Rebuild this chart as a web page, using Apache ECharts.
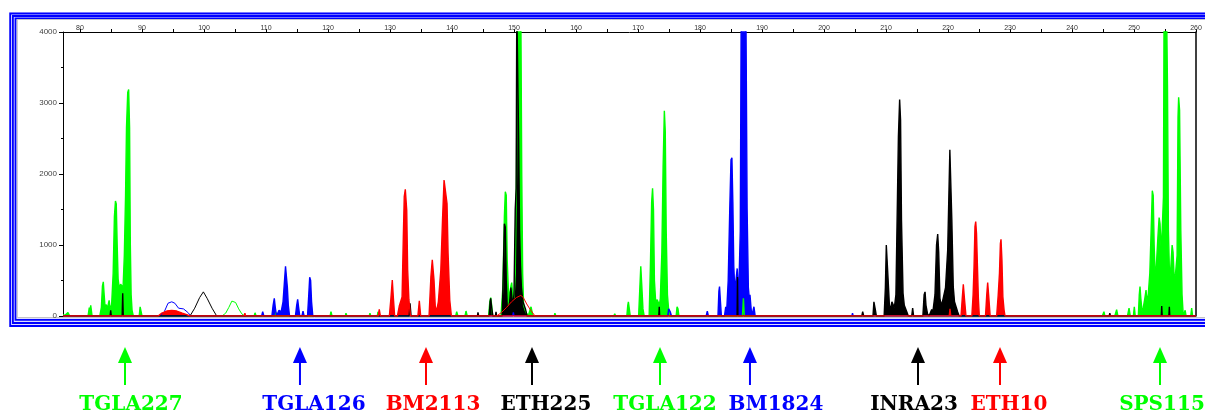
<!DOCTYPE html>
<html>
<head>
<meta charset="utf-8">
<script src="https://cdn.jsdelivr.net/npm/echarts@6/dist/echarts.min.js"></script>
<style>
html,body{margin:0;padding:0;background:#fff;}
#chart{width:1205px;height:415px;}
</style>
</head>
<body>
<div id="chart"></div>
<script>
// ---- axis ticks ----
const xTickValues = [80,85,90,95,100,105,110,115,120,125,130,135,140,145,150,155,160,165,170,175,180,185,190,195,200,205,210,215,220,225,230,235,240,245,250,255,260];
const xTickLabels = [80,90,100,110,120,130,140,150,160,170,180,190,200,210,220,230,240,250,260];
const yTickLabels = [0,1000,2000,3000,4000];

// ---- green dye trace: [size (bp), RFU] ----
const greenPeaks = [
 [77.26,20],[77.6,10],[78.06,50],[78.3,5],[79.5,0],
 [81.3,0],[81.5,120],[81.6,60],[81.73,150],[81.95,0],
 [83.2,0],[83.45,120],[83.62,420],[83.76,480],[83.9,300],[84.05,120],[84.25,160],[84.45,100],[84.6,180],[84.7,220],[84.85,120],[85.1,150],[85.35,600],[85.55,1400],[85.72,1620],[85.85,1580],[86.0,1000],[86.15,520],[86.35,380],[86.55,450],[86.77,460],[86.95,400],[87.15,850],[87.35,1700],[87.5,2650],[87.7,3150],[87.85,3190],[88.0,2650],[88.12,1000],[88.25,300],[88.4,80],[88.6,0],
 [89.55,0],[89.7,130],[89.85,120],[90.0,0],
 [108.1,0],[108.23,45],[108.4,0],
 [111.5,0],[111.61,50],[111.75,0],
 [120.35,0],[120.48,60],[120.65,0],
 [122.8,0],[122.9,40],[123.05,0],
 [126.65,0],[126.77,40],[126.9,0],
 [127.95,0],[128.06,60],[128.2,0],
 [140.6,0],[140.76,60],[140.95,0],
 [142.1,0],[142.26,70],[142.45,0],
 [145.9,0],[146.1,200],[146.25,260],[146.4,150],[146.55,0],
 [147.9,0],[148.2,400],[148.45,1400],[148.6,1750],[148.75,1700],[148.9,800],[149.1,350],[149.3,300],[149.5,420],[149.63,470],[149.8,300],[150.0,250],[150.2,600],[150.4,2000],[150.55,4400],[151.1,4400],[151.25,2000],[151.4,600],[151.55,150],[151.8,80],[152.0,40],[152.3,0],
 [152.6,0],[152.75,130],[152.9,120],[153.05,0],
 [156.5,0],[156.6,40],[156.75,0],
 [166.1,0],[166.25,30],[166.4,0],
 [168.2,0],[168.35,150],[168.45,200],[168.6,100],[168.75,0],
 [170.1,0],[170.3,400],[170.45,700],[170.6,450],[170.8,100],[171.0,0],
 [171.8,0],[172.0,700],[172.2,1600],[172.35,1800],[172.5,1500],[172.65,500],[172.85,200],[173.1,230],[173.25,250],[173.45,150],[173.6,250],[173.85,900],[174.05,2100],[174.25,2890],[174.4,2600],[174.55,1200],[174.75,300],[174.95,80],[175.1,0],
 [176.15,0],[176.3,130],[176.45,100],[176.6,0],
 [186.85,0],[187.0,250],[187.15,0],
 [244.9,0],[245.15,60],[245.3,0],
 [246.9,0],[247.2,90],[247.4,0],
 [248.95,0],[249.2,110],[249.4,0],
 [249.9,0],[250.05,130],[250.2,0],
 [250.7,0],[250.85,300],[250.97,415],[251.1,250],[251.3,60],[251.5,120],[251.75,250],[251.94,365],[252.1,200],[252.3,300],[252.55,600],[252.75,1165],[252.95,1765],[253.1,1700],[253.25,1000],[253.4,600],[253.6,700],[253.85,1100],[254.05,1385],[254.2,1300],[254.4,885],[254.6,900],[254.75,1680],[254.85,4400],[255.25,4400],[255.4,3250],[255.55,1200],[255.75,500],[255.95,700],[256.15,1000],[256.3,900],[256.5,500],[256.7,600],[256.95,850],[257.1,2800],[257.2,3080],[257.35,2900],[257.55,1200],[257.75,300],[257.95,0],
 [258.1,0],[258.25,80],[258.4,0],
 [259.15,0],[259.3,110],[259.45,0],[260,0]
];
const greenHump = [[102.9,0],[103.5,40],[104.0,120],[104.5,210],[104.75,225],[105.1,190],[105.6,100],[106.1,30],[106.6,0]];

// ---- blue dye trace ----
const bluePeaks = [
 [77.26,0],
 [109.3,0],[109.47,60],[109.65,0],
 [110.95,0],[111.15,150],[111.34,250],[111.5,120],[111.7,0],
 [111.95,0],[112.1,80],[112.26,100],[112.45,60],[112.75,200],[112.95,450],[113.15,700],[113.3,690],[113.45,400],[113.6,150],[113.8,0],
 [114.75,0],[114.95,150],[115.11,235],[115.25,130],[115.45,0],
 [115.8,0],[115.97,70],[116.15,0],
 [116.7,0],[116.9,300],[117.05,545],[117.2,500],[117.35,200],[117.55,0],
 [149.8,0],[149.9,50],[150.0,0],
 [174.8,0],[174.95,100],[175.2,60],[175.4,0],
 [181.0,0],[181.18,70],[181.35,0],
 [182.9,0],[183.05,350],[183.15,415],[183.3,200],[183.45,0],
 [183.95,0],[184.15,130],[184.3,60],[184.55,500],[184.8,1500],[185.0,2200],[185.15,2230],[185.3,1600],[185.45,700],[185.6,400],[185.8,500],[186.0,670],[186.15,400],[186.3,500],[186.5,1200],[186.65,4400],[187.4,4400],[187.6,1500],[187.8,400],[187.95,250],[188.06,300],[188.2,150],[188.35,0],
 [188.5,0],[188.7,130],[188.9,0],
 [204.5,0],[204.6,40],[204.7,0],[260,0]
];
const blueHump = [[92.9,0],[93.6,60],[94.2,180],[94.8,200],[95.3,180],[95.9,110],[96.7,100],[97.4,50],[97.9,0]];

// ---- black dye trace ----
const blackPeaks = [
 [77.26,0],
 [84.85,0],[84.95,80],[85.05,0],
 [86.8,0],[86.89,320],[86.98,0],
 [133.1,0],[133.23,180],[133.4,0],
 [144.1,0],[144.19,50],[144.3,0],
 [146.0,0],[146.15,200],[146.24,250],[146.4,120],[146.6,0],
 [147.0,0],[147.1,60],[147.2,0],
 [148.1,0],[148.3,700],[148.45,1300],[148.6,1250],[148.75,500],[148.9,150],[149.1,100],[149.3,200],[149.5,400],[149.65,380],[149.8,150],[150.0,300],[150.2,1500],[150.35,1800],[150.45,4400],[150.6,4400],[150.75,2500],[150.9,1200],[151.05,700],[151.2,400],[151.45,200],[151.7,180],[151.85,100],[152.1,0],
 [173.35,0],[173.43,130],[173.5,0],
 [185.98,0],[186.05,550],[186.12,0],
 [206.1,0],[206.24,60],[206.4,0],
 [207.9,0],[208.05,200],[208.15,225],[208.3,80],[208.45,0],
 [209.7,0],[209.9,400],[210.05,1000],[210.16,1020],[210.35,500],[210.55,150],[210.75,100],[210.95,200],[211.15,225],[211.35,120],[211.6,300],[211.85,1680],[212.0,2525],[212.2,3050],[212.35,2760],[212.5,1350],[212.75,320],[212.95,150],[213.15,155],[213.35,60],[213.6,0],
 [214.15,0],[214.3,110],[214.45,0],
 [215.95,0],[216.15,300],[216.3,340],[216.45,150],[216.7,30],[216.95,0],
 [217.2,0],[217.37,90],[217.55,50],[217.9,300],[218.15,1000],[218.34,1155],[218.5,900],[218.7,250],[218.9,150],[219.1,200],[219.35,190],[219.6,400],[219.95,930],[220.3,2340],[220.45,2350],[220.62,1350],[220.85,410],[221.05,200],[221.3,130],[221.55,60],[221.8,0],
 [246.0,0],[246.1,40],[246.2,0],
 [254.4,0],[254.47,140],[254.55,0],
 [255.62,0],[255.7,130],[255.78,0],[260,0]
];
const blackHump = [[97.74,0],[98.5,110],[99.3,260],[99.9,340],[100.5,250],[101.3,110],[102.05,0]];

// ---- red dye trace ----
const redPeaks = [
 [77.26,0],
 [92.6,0],[93.2,40],[94.0,70],[94.8,80],[95.6,70],[96.5,40],[97.2,20],[97.7,0],
 [106.5,0],[106.6,40],[106.7,0],
 [128.1,0],[128.27,95],[128.45,0],
 [129.9,0],[130.15,250],[130.37,505],[130.55,250],[130.75,0],
 [131.2,0],[131.5,140],[131.75,150],[131.95,270],[132.15,1115],[132.3,1680],[132.47,1785],[132.7,1490],[132.85,650],[133.05,230],[133.3,0],
 [134.5,0],[134.73,215],[134.95,0],
 [136.3,0],[136.6,555],[136.82,790],[137.1,505],[137.3,140],[137.5,60],[137.8,200],[138.2,650],[138.47,1350],[138.72,1915],[138.95,1940],[139.2,1585],[139.37,885],[139.64,225],[139.9,0],
 [220.2,0],[220.32,100],[220.45,0],
 [222.1,0],[222.3,250],[222.47,445],[222.65,250],[222.9,0],
 [223.85,0],[224.05,300],[224.2,695],[224.35,1260],[224.47,1330],[224.6,1165],[224.75,700],[224.9,250],[225.05,0],
 [226.05,0],[226.25,300],[226.4,470],[226.55,300],[226.8,0],
 [227.85,0],[228.1,300],[228.3,600],[228.45,1020],[228.55,1080],[228.7,790],[228.85,270],[229.05,80],[229.2,0],[260,0]
];
const redHump = [[147.2,0],[148.0,50],[148.8,120],[149.6,200],[150.4,260],[151.1,290],[151.5,260],[152.05,170],[152.7,80],[153.4,0]];

// ---- marker annotations ----
const markerNames = ['TGLA227','TGLA126','BM2113','ETH225','TGLA122','BM1824','INRA23','ETH10','SPS115'];
const markerBp = [87.26,115.48,135.81,152.9,173.55,188.06,215.16,228.39,254.19];
const markerColors = ['#00ff00','#0000ff','#ff0000','#000000','#00ff00','#0000ff','#000000','#ff0000','#00ff00'];
const labelDx = [6,14,7,14,5,26,-4,9,2];

const GREEN='#00ff00', BLUE='#0000ff', BLACK='#000000', RED='#ff0000';

function filled(name, data, color){
  return {name, type:'line', xAxisIndex:0, yAxisIndex:0, data, symbol:'none', showSymbol:false,
    lineStyle:{color, width:1.4}, itemStyle:{color}, areaStyle:{color, opacity:1}, clip:true, silent:true};
}
function outline(name, data, color){
  return {name, type:'line', xAxisIndex:0, yAxisIndex:0, data, symbol:'none', showSymbol:false,
    lineStyle:{color, width:1}, itemStyle:{color}, clip:true, silent:true};
}

const chart = echarts.init(document.getElementById('chart'), null, {renderer:'canvas'});
const XMIN = 77.26, XMAX = 260;

chart.setOption({
  animation:false,
  backgroundColor:'#ffffff',
  graphic:[
    {type:'rect', z:-20, silent:true, shape:{x:9, y:12.5, width:1230, height:314.5}, style:{fill:'#dcdcff'}},
    {type:'rect', z:-19, silent:true, shape:{x:10.2, y:13.5, width:1230, height:312.5}, style:{fill:'none', stroke:'#0000ff', lineWidth:1.8}},
    {type:'rect', z:-19, silent:true, shape:{x:12.9, y:16, width:1230, height:307}, style:{fill:'none', stroke:'#0000ff', lineWidth:1.8}},
    {type:'rect', z:-19, silent:true, shape:{x:15.5, y:18.3, width:1230, height:301.5}, style:{fill:'none', stroke:'#0000ff', lineWidth:1.8}},
    {type:'rect', z:-18, silent:true, shape:{x:17.3, y:19.5, width:1230, height:298}, style:{fill:'#ffffff', stroke:'#c4c4c4', lineWidth:1}}
  ],
  grid:[
    {left:63, right:9, top:32, height:284},
    {left:63, right:9, top:340, height:75}
  ],
  xAxis:[
    {gridIndex:0, type:'value', position:'top', min:XMIN, max:XMAX,
     axisLine:{show:true, onZero:false, lineStyle:{color:'#000', width:1}},
     axisTick:{show:true, customValues:xTickValues, length:3, inside:false, lineStyle:{color:'#000'}},
     axisLabel:{show:true, customValues:xTickLabels, fontSize:7, margin:0, color:'#333', fontFamily:'Liberation Sans'},
     splitLine:{show:false}},
    {gridIndex:1, type:'value', min:XMIN, max:XMAX, show:false}
  ],
  yAxis:[
    {gridIndex:0, type:'value', min:0, max:4000, interval:1000,
     axisLine:{show:true, lineStyle:{color:'#000', width:1}},
     axisTick:{show:true, length:4, lineStyle:{color:'#000'}},
     minorTick:{show:true, splitNumber:2, length:2, lineStyle:{color:'#000'}},
     axisLabel:{show:true, fontSize:8, margin:6, color:'#444', fontFamily:'Liberation Sans',
       formatter:(v)=> yTickLabels.indexOf(v) >= 0 ? String(v) : ''},
     splitLine:{show:false}},
    {gridIndex:0, type:'value', position:'right', min:0, max:4000,
     axisLine:{show:true, lineStyle:{color:'#000', width:1.5}},
     axisTick:{show:false}, axisLabel:{show:false}, splitLine:{show:false}},
    {gridIndex:1, type:'value', min:0, max:1, show:false}
  ],
  series:[
    filled('green', greenPeaks, GREEN),
    outline('greenHump', greenHump, GREEN),
    filled('blue', bluePeaks, BLUE),
    outline('blueHump', blueHump, BLUE),
    filled('black', blackPeaks, BLACK),
    outline('blackHump', blackHump, BLACK),
    filled('red', redPeaks, RED),
    outline('redHump', redHump, RED),
    {
      type:'custom', xAxisIndex:1, yAxisIndex:2, silent:true, clip:false,
      data: markerBp.map((b,i)=>[b,i]),
      renderItem:function(params, api){
        const x = api.coord([api.value(0), 0])[0];
        const i = api.value(1);
        const top = params.coordSys.y;
        const c = markerColors[i];
        return {type:'group', children:[
          {type:'line', shape:{x1:x, y1:top+20, x2:x, y2:top+45}, style:{stroke:c, lineWidth:2}},
          {type:'polygon', shape:{points:[[x, top+7],[x-7, top+23],[x+7, top+23]]}, style:{fill:c}},
          {type:'text', x:x+labelDx[i], y:top+65, style:{text:markerNames[i], fill:c, fontSize:20, fontWeight:'bold', fontFamily:'DejaVu Serif', align:'center', verticalAlign:'middle'}}
        ]};
      }
    }
  ]
});
</script>
</body>
</html>
